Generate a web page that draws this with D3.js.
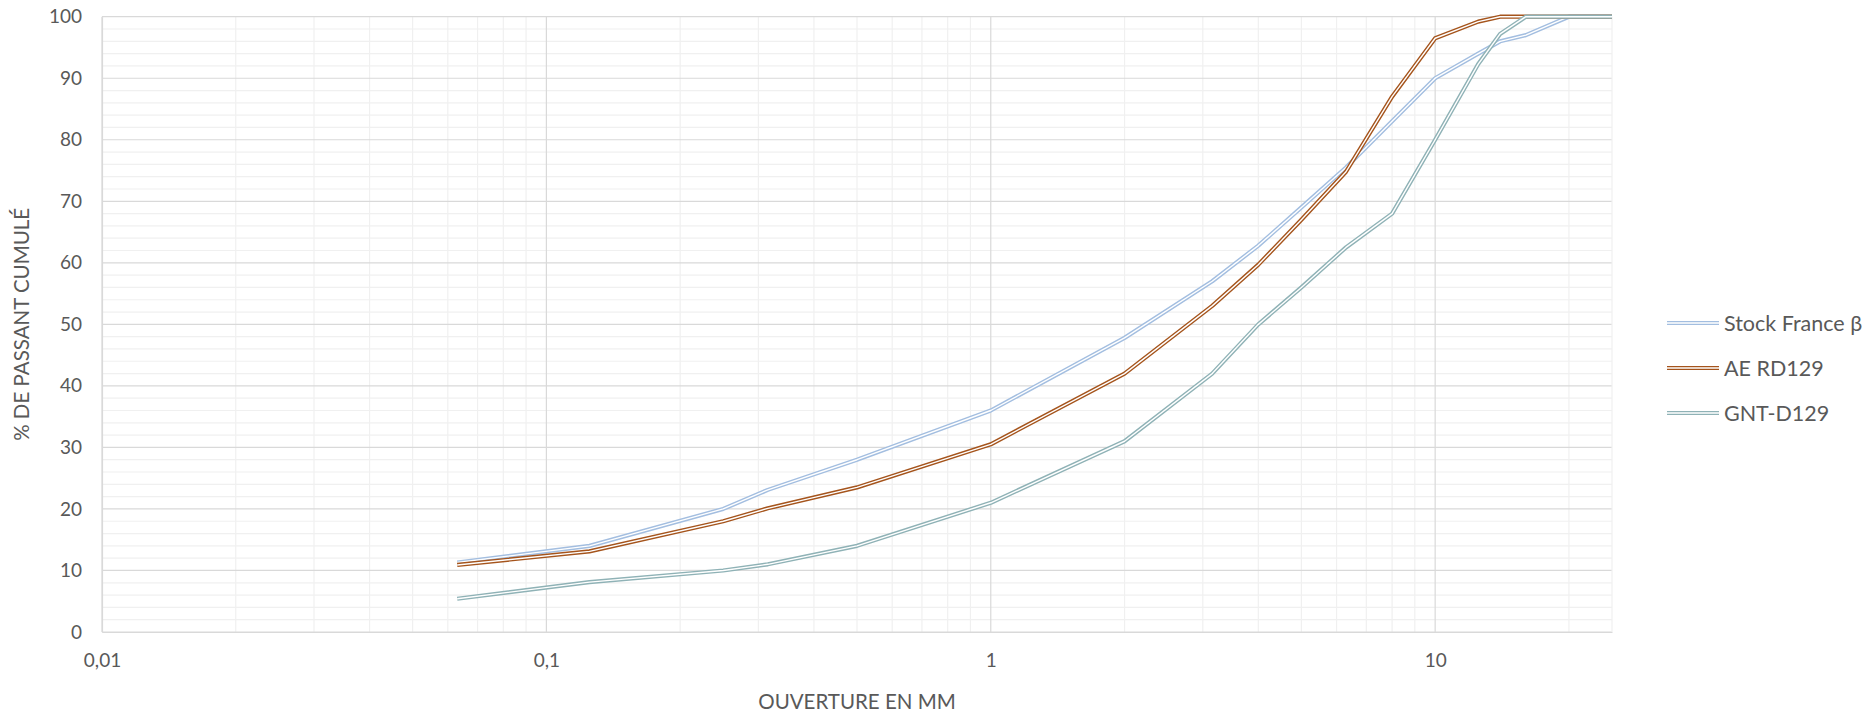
<!DOCTYPE html>
<html><head><meta charset="utf-8">
<script src="https://cdn.jsdelivr.net/npm/d3@7"></script>
<style>body{margin:0;background:#fff}svg{display:block}</style>
</head><body>
<svg id="c" width="1870" height="712"></svg>
<script>
const sieves = [0.063,0.125,0.25,0.315,0.5,1,2,3.15,4,5,6.3,8,10,12.5,14,16,20,25];
const stockFrance = [11.3,14,20,23.1,28,36,47.8,57,62.8,69,75.5,83,90,94,96,97,100,100];
const aeRD129 = [10.9,13.1,18,20.1,23.5,30.5,42,53,59.7,67,74.8,87,96.5,99.2,100,100,100,100];
const gntD129 = [5.4,8.1,10,11,14,21,31,42,50,56,62.5,68,80,92.3,97.2,100,100,100];
const seriesNames = ["Stock France β","AE RD129","GNT-D129"];
const seriesColors = ["#a3bee0","#a5541c","#8fb2b6"];
const xTicks = [0.01,0.1,1,10];
const yTicks = [0,10,20,30,40,50,60,70,80,90,100];

const svg = d3.select("#c");
const font = "Lato, 'Open Sans', sans-serif";
const L=102, R=1612, T=16.7, B=632;
const x = d3.scaleLog().domain([0.01,25]).range([L,R]);
const y = d3.scaleLinear().domain([0,100]).range([B,T]);

// minor gridlines
const minorX=[];
[0.01,0.1,1,10].forEach(d=>{for(let k=2;k<=9;k++){const v=d*k; if(v<=25) minorX.push(v);}});
const minorY=d3.range(2,100,2).filter(v=>v%10!==0);
const g=svg.append("g");
g.selectAll(".mx").data(minorX).join("line").attr("x1",d=>x(d)).attr("x2",d=>x(d)).attr("y1",T).attr("y2",B).attr("stroke","#f0f0f0").attr("stroke-width",1.2);
g.selectAll(".my").data(minorY).join("line").attr("x1",L).attr("x2",R).attr("y1",d=>y(d)).attr("y2",d=>y(d)).attr("stroke","#f0f0f0").attr("stroke-width",1.2);
g.selectAll(".Mx").data(xTicks).join("line").attr("x1",d=>x(d)).attr("x2",d=>x(d)).attr("y1",T).attr("y2",B).attr("stroke","#d9d9d9").attr("stroke-width",1.2);
g.selectAll(".My").data(yTicks).join("line").attr("x1",L).attr("x2",R).attr("y1",d=>y(d)).attr("y2",d=>y(d)).attr("stroke","#d9d9d9").attr("stroke-width",1.2);
g.append("line").attr("x1",R).attr("x2",R).attr("y1",T).attr("y2",B).attr("stroke","#f0f0f0").attr("stroke-width",1.2);

// axes
const xAxis = d3.axisBottom(x).tickValues(xTicks).tickFormat(d=>String(d).replace(".",",")).tickSize(0).tickPadding(22);
const ax = svg.append("g").attr("transform",`translate(0,${B})`).call(xAxis);
ax.select(".domain").attr("stroke","#d9d9d9").attr("stroke-width",1.2);
ax.selectAll("text").attr("font-family",font).attr("font-size",19).attr("fill","#595959");
const yAxis = d3.axisLeft(y).tickValues(yTicks).tickSize(0).tickPadding(20);
const ay = svg.append("g").attr("transform",`translate(${L},0)`).call(yAxis);
ay.select(".domain").attr("stroke","#d9d9d9").attr("stroke-width",1.2);
ay.selectAll("text").attr("font-family",font).attr("font-size",19).attr("fill","#595959");

// series
const all=[stockFrance,aeRD129,gntD129];
const line=d3.line().x(d=>x(d[0])).y(d=>y(d[1]));
all.forEach((vals,i)=>{
  const pts=sieves.map((s,j)=>[s,vals[j]]);
  svg.append("path").attr("d",line(pts)).attr("fill","none").attr("stroke",seriesColors[i]).attr("stroke-width",4.2).attr("stroke-linejoin","round");
  svg.append("path").attr("d",line(pts)).attr("fill","none").attr("stroke","#fff").attr("stroke-width",1.4).attr("stroke-linejoin","round");
});

// legend
const ly=[323,368,413];
seriesNames.forEach((n,i)=>{
  svg.append("line").attr("x1",1667).attr("x2",1719).attr("y1",ly[i]).attr("y2",ly[i]).attr("stroke",seriesColors[i]).attr("stroke-width",4.2);
  svg.append("line").attr("x1",1667).attr("x2",1719).attr("y1",ly[i]).attr("y2",ly[i]).attr("stroke","#fff").attr("stroke-width",1.4);
  svg.append("text").attr("x",1724).attr("y",ly[i]).attr("dy","0.35em").attr("font-family",font).attr("font-size",21.5).attr("fill","#595959").text(n);
});

// titles
svg.append("text").attr("transform",`translate(29,${(T+B)/2}) rotate(-90)`).attr("text-anchor","middle").attr("font-family",font).attr("font-size",20.5).attr("fill","#595959").text("% DE PASSANT CUMULÉ");
svg.append("text").attr("x",(L+R)/2).attr("y",709).attr("text-anchor","middle").attr("font-family",font).attr("font-size",20.5).attr("fill","#595959").text("OUVERTURE EN MM");
</script>
</body></html>
